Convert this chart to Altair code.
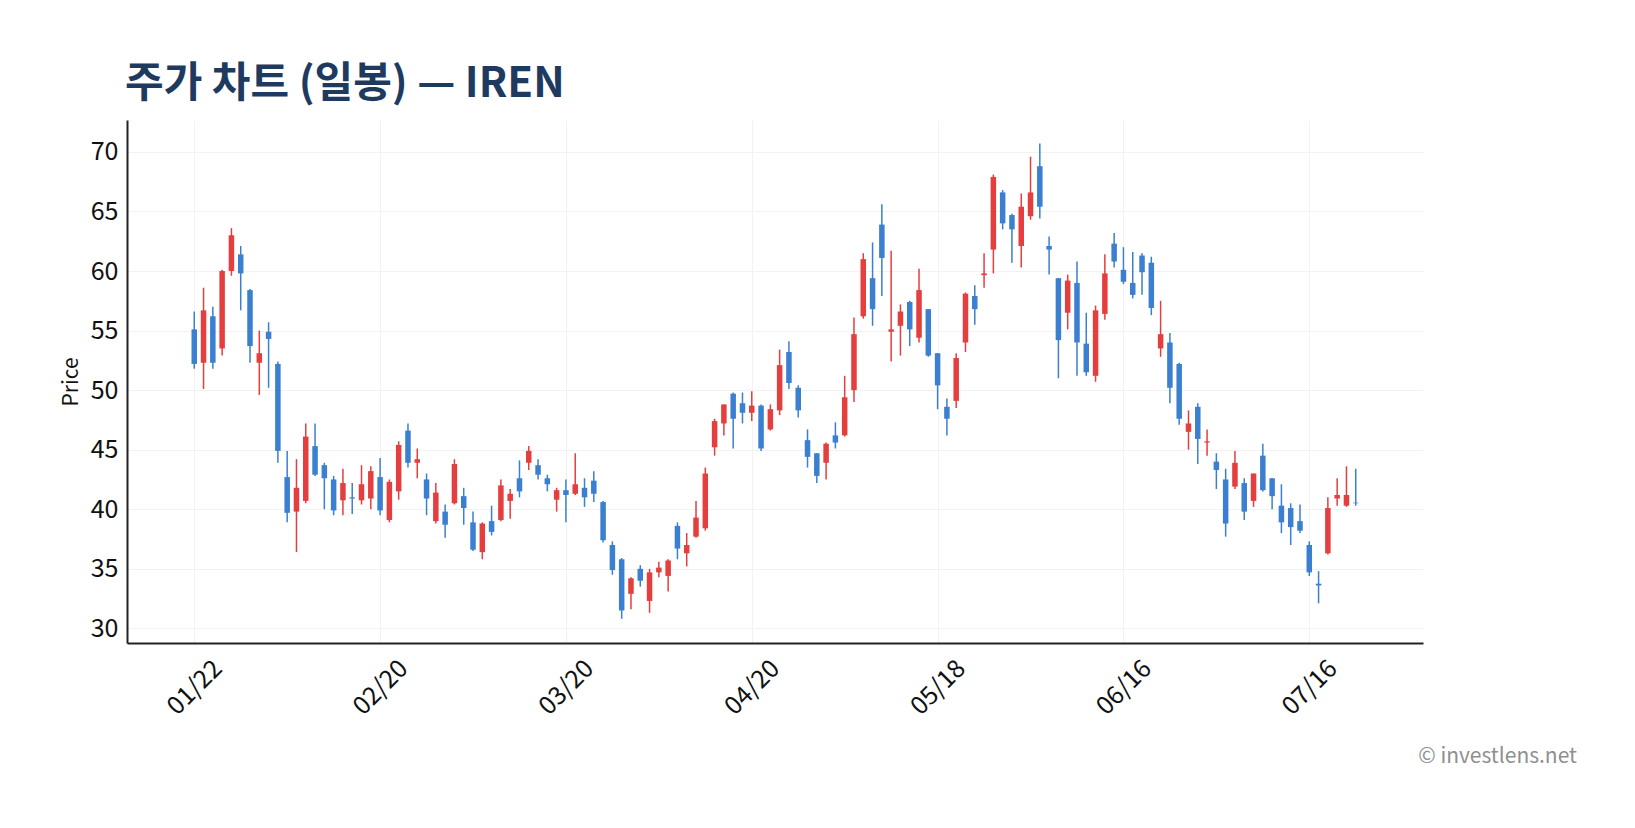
import altair as alt
import pandas as pd

# ---- data ----
opens = [55.1, 52.3, 56.2, 53.5, 60.0, 61.4, 58.4, 52.3, 54.9, 52.2,
         42.7, 39.8, 40.7, 45.3, 43.7, 42.5, 40.75, 41.0, 40.75, 40.9,
         42.7, 39.1, 41.5, 46.6, 43.9, 42.5, 39.0, 39.8, 40.5, 41.1,
         38.9, 36.4, 39.0, 39.1, 40.7, 42.6, 43.9, 43.7, 42.6, 40.8,
         41.6, 41.3, 41.8, 42.4, 40.6, 37.0, 35.8, 32.9, 35.0, 32.3,
         34.7, 34.4, 38.6, 36.3, 37.7, 38.4, 45.2, 47.2, 49.7, 48.9,
         48.1, 48.7, 46.7, 48.3, 53.2, 50.2, 45.8, 44.7, 43.9, 46.2,
         46.2, 50.0, 56.2, 59.4, 63.9, 54.9, 55.4, 57.4, 54.4, 56.8,
         53.1, 48.6, 49.1, 54.0, 57.9, 59.65, 61.8, 66.6, 64.7, 62.1,
         64.6, 68.8, 62.1, 59.4, 56.5, 59.0, 53.9, 51.2, 56.4, 62.3,
         60.1, 59.0, 61.3, 60.7, 53.5, 54.0, 52.2, 46.5, 48.6, 45.6,
         44.0, 42.5, 41.9, 42.2, 40.7, 44.5, 42.6, 40.3, 40.1, 39.0,
         37.0, 33.75, 36.3, 40.9, 40.3, 40.55]
highs = [56.6, 58.6, 57.0, 60.1, 63.6, 62.1, 58.5, 55.0, 55.7, 52.4,
         44.9, 44.2, 47.2, 47.2, 43.9, 42.8, 43.4, 42.2, 43.7, 43.6,
         44.3, 42.5, 45.7, 47.2, 45.1, 43.0, 42.2, 40.4, 44.2, 41.8,
         39.8, 38.9, 40.3, 42.5, 41.7, 44.1, 45.3, 44.2, 42.9, 41.8,
         42.5, 44.7, 42.6, 43.2, 40.7, 37.3, 35.9, 34.3, 35.3, 35.0,
         35.6, 35.8, 38.9, 38.0, 40.7, 43.5, 47.6, 48.8, 49.8, 49.8,
         49.9, 48.8, 48.8, 53.4, 54.1, 50.4, 46.7, 44.7, 45.6, 47.3,
         51.2, 56.1, 61.5, 62.4, 65.6, 61.7, 57.2, 57.5, 60.2, 56.8,
         53.1, 49.3, 53.1, 58.2, 58.8, 61.5, 68.1, 66.8, 64.8, 66.5,
         69.6, 70.7, 62.9, 59.4, 59.7, 60.8, 56.5, 57.1, 61.4, 63.2,
         62.0, 61.6, 61.5, 61.2, 57.5, 54.8, 52.3, 48.3, 48.9, 46.7,
         44.7, 43.4, 44.9, 42.6, 43.0, 45.5, 42.6, 42.1, 40.5, 40.4,
         37.3, 34.8, 41.0, 42.6, 43.6, 43.4]
lows = [51.8, 50.1, 51.8, 52.9, 59.6, 56.7, 52.3, 49.6, 50.2, 43.9,
        38.9, 36.4, 40.5, 42.8, 40.0, 39.5, 39.5, 39.6, 40.4, 40.0,
        39.5, 38.9, 40.8, 43.5, 42.6, 39.5, 38.8, 37.6, 40.4, 38.7,
        36.5, 35.8, 37.8, 39.0, 39.2, 41.0, 43.3, 42.5, 41.5, 39.8,
        38.9, 41.2, 40.2, 40.6, 37.2, 34.5, 30.8, 31.6, 33.5, 31.3,
        34.3, 33.1, 35.8, 35.2, 37.6, 38.2, 44.5, 46.2, 45.1, 47.2,
        47.4, 44.9, 46.6, 47.9, 50.1, 47.7, 43.5, 42.2, 42.5, 45.1,
        46.1, 49.0, 56.0, 55.4, 57.9, 52.4, 52.9, 53.7, 54.0, 52.8,
        48.4, 46.2, 48.5, 53.2, 55.5, 58.6, 59.8, 63.5, 60.7, 60.3,
        64.3, 64.4, 59.7, 51.0, 55.1, 51.2, 51.2, 50.7, 55.9, 60.3,
        58.9, 57.7, 58.0, 56.3, 52.8, 48.9, 47.1, 45.0, 43.8, 44.5,
        41.7, 37.7, 41.7, 39.1, 40.2, 41.5, 40.0, 38.0, 37.0, 38.0,
        34.4, 32.1, 36.2, 40.3, 40.2, 40.3]
closes = [52.2, 56.7, 52.3, 60.0, 63.0, 59.8, 53.7, 53.1, 54.3, 44.9,
          39.7, 41.8, 46.1, 42.9, 42.6, 39.9, 42.2, 40.9, 42.1, 43.2,
          39.9, 42.3, 45.4, 43.9, 44.2, 40.9, 41.4, 38.7, 43.8, 40.1,
          36.6, 38.8, 38.1, 42.0, 41.3, 41.5, 44.9, 42.9, 42.1, 41.6,
          41.2, 42.1, 41.0, 41.3, 37.4, 34.9, 31.5, 34.2, 34.0, 34.7,
          35.1, 35.7, 36.7, 37.0, 39.3, 43.0, 47.4, 48.8, 47.6, 48.1,
          48.7, 45.1, 48.4, 52.1, 50.6, 48.3, 44.4, 42.8, 45.5, 45.6,
          49.4, 54.7, 61.0, 56.8, 61.1, 55.1, 56.6, 55.1, 58.4, 52.9,
          50.4, 47.6, 52.7, 58.1, 56.8, 59.8, 67.9, 64.0, 63.5, 65.4,
          66.6, 65.4, 61.8, 54.2, 59.2, 54.0, 51.5, 56.7, 59.8, 60.8,
          59.1, 58.0, 59.9, 56.9, 54.7, 50.2, 47.6, 47.2, 45.9, 45.7,
          43.3, 38.8, 43.9, 39.8, 43.0, 41.6, 41.1, 38.9, 38.5, 38.2,
          34.7, 33.6, 40.1, 41.2, 41.2, 40.5]
tick_labels = ["01/22", "02/20", "03/20", "04/20", "05/18", "06/16", "07/16"]
tick_positions = [0, 20, 40, 60, 80, 100, 120]
y_ticks = [30, 35, 40, 45, 50, 55, 60, 65, 70]

title_text = "주가 차트 (일봉) — IREN"
credit_text = "© investlens.net"

UP = "#e53e3e"
DOWN = "#3a7fd0"
FONT = "Noto Sans CJK KR"

df = pd.DataFrame({
    "i": list(range(len(opens))),
    "open": opens, "high": highs, "low": lows, "close": closes,
})
df["dir"] = ["up" if c >= o else "down" for o, c in zip(opens, closes)]

label_expr = "[" + ",".join("'%s'" % t for t in tick_labels) + "][indexof(" + \
    "[" + ",".join(str(p) for p in tick_positions) + "], datum.value)]"

color = alt.Color("dir:N", scale=alt.Scale(domain=["up", "down"], range=[UP, DOWN]), legend=None)

x_enc = alt.X(
    "i:Q",
    scale=alt.Scale(domain=[-6.7, 131.7], nice=False, zero=False),
    axis=alt.Axis(
        values=tick_positions, labelExpr=label_expr, labelAngle=315,
        labelAlign="center", labelBaseline="middle", labelPadding=44,
        ticks=False, tickSize=0, grid=True, gridColor="#f2f2f2", gridWidth=1,
        domainColor="#222222", domainWidth=2, labelFont=FONT, labelFontSize=25,
        labelColor="#111111", labelOverlap=False, labelFlush=False, title=None,
    ),
)
y_scale = alt.Scale(domain=[28.77, 72.68], nice=False, zero=False)
y_axis = alt.Axis(
    values=y_ticks, ticks=False, tickSize=0, grid=True, gridColor="#f2f2f2",
    gridWidth=1, domainColor="#222222", domainWidth=2, labelFont=FONT,
    labelFontSize=25, labelColor="#111111", labelPadding=9, title="Price",
    titleFont=FONT, titleFontSize=21, titleFontWeight="normal",
    titleColor="#111111", titlePadding=9,
)

base = alt.Chart(df)
wicks = base.mark_rule(strokeWidth=1.5).encode(
    x=x_enc,
    y=alt.Y("low:Q", scale=y_scale, axis=y_axis),
    y2="high:Q",
    color=color,
)
bodies = base.mark_bar(size=5.5, stroke=None).encode(
    x="i:Q",
    y="open:Q",
    y2="close:Q",
    color=color,
)

title_df = pd.DataFrame({"t": [title_text]})
title = alt.Chart(title_df).mark_text(
    align="left", baseline="alphabetic", font=FONT, fontSize=42,
    fontWeight="bold", color="#1e3a5f",
).encode(x=alt.value(-2), y=alt.value(-23), text="t:N")

credit_df = pd.DataFrame({"t": [credit_text]})
credit = alt.Chart(credit_df).mark_text(
    align="right", baseline="alphabetic", font=FONT, fontSize=21, color="#8f8f8f",
).encode(x=alt.value(1450), y=alt.value(643), text="t:N")

chart = alt.layer(wicks, bodies, title, credit).properties(
    width=1296, height=523,
    autosize=alt.AutoSizeParams(type="none"),
    padding={"left": 127, "top": 120, "right": 212, "bottom": 185},
    background="white",
).configure_view(stroke=None)

chart.save("out.html", embed_options={"renderer": "svg", "actions": False})
